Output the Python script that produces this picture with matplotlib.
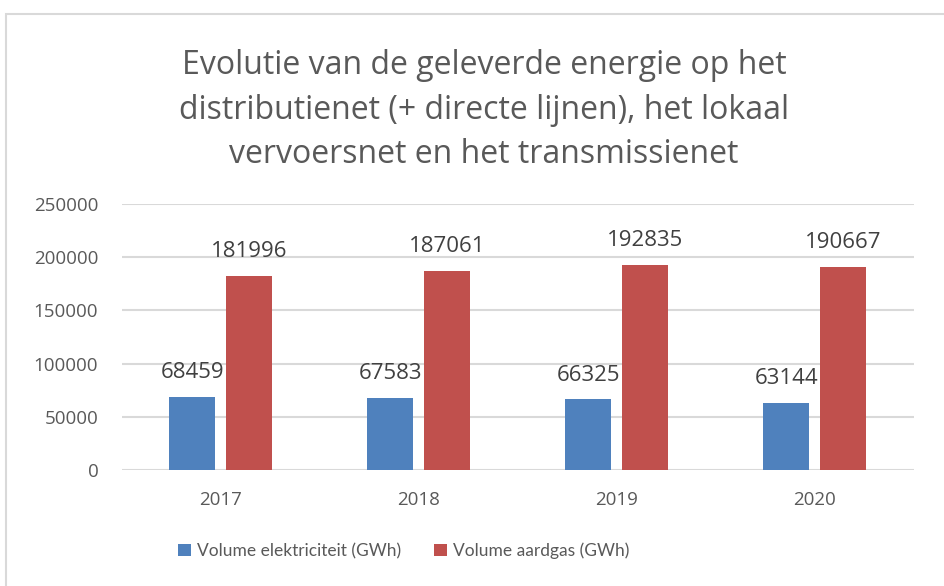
import numpy as np
import matplotlib.pyplot as plt
from matplotlib.patches import Rectangle

years = ["2017", "2018", "2019", "2020"]
elektriciteit = [68459, 67583, 66325, 63144]
aardgas = [181996, 187061, 192835, 190667]
series_names = ["Volume elektriciteit (GWh)", "Volume aardgas (GWh)"]
yticks = [0, 50000, 100000, 150000, 200000, 250000]

blue = "#4F81BD"
red = "#C0504D"
grey = "#595959"
sans = ["Open Sans", "DejaVu Sans"]
plt.rcParams["font.family"] = sans

fig = plt.figure(figsize=(9.45, 5.86), dpi=100)
ax = fig.add_axes([0.129, 0.198, 0.838, 0.454])

x = np.arange(len(years))
w = 0.232
gap = 0.056
b1 = ax.bar(x - (w + gap) / 2, elektriciteit, w, color=blue, label=series_names[0])
b2 = ax.bar(x + (w + gap) / 2, aardgas, w, color=red, label=series_names[1])

# data labels above each bar
for bars in (b1, b2):
    for b in bars:
        ax.annotate(str(int(b.get_height())), (b.get_x() + b.get_width() / 2, b.get_height()),
                    xytext=(0, 10), textcoords="offset points", ha="center", va="bottom",
                    fontsize=16, color="#404040")

ax.set_xlim(-0.5, len(years) - 0.5)
ax.set_ylim(0, 250000)
ax.set_yticks(yticks)
ax.set_yticklabels([str(t) for t in yticks], fontsize=13.5, color=grey)
ax.set_xticks(x)
ax.set_xticklabels(years, fontsize=13.5, color=grey)
ax.tick_params(axis="y", length=0, pad=17)
ax.tick_params(axis="x", length=0, pad=15)
ax.grid(axis="y", color="#d9d9d9", linewidth=1.5)
ax.set_axisbelow(True)
for s in ax.spines.values():
    s.set_visible(False)

fig.text(0.512, 0.812, "Evolutie van de geleverde energie op het\ndistributienet (+ directe lijnen), het lokaal\nvervoersnet en het transmissienet",
         ha="center", va="center", fontsize=23, color=grey, linespacing=1.45)

fig.legend(handles=[b1, b2], loc="center", bbox_to_anchor=(0.427, 0.06), ncol=2, frameon=False,
           prop={"family": ["Lato", "DejaVu Sans"], "size": 12.5}, labelcolor=grey,
           handlelength=0.75, handleheight=0.75, handletextpad=0.35, columnspacing=1.9)

fig.patches.append(Rectangle((0.006, -0.1), 1.2, 1.076, transform=fig.transFigure,
                             fill=False, edgecolor="#d9d9d9", linewidth=1.5))

fig.savefig("out.png", dpi=100)
